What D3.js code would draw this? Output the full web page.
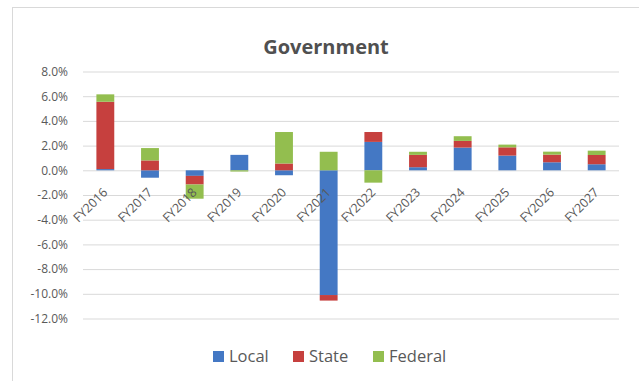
<!DOCTYPE html>
<html><head><meta charset="utf-8">
<script src="https://cdn.jsdelivr.net/npm/d3@7"></script>
<style>html,body{margin:0;padding:0;background:#fff;}svg{display:block;}</style>
</head><body>
<script>
const categories = ["FY2016","FY2017","FY2018","FY2019","FY2020","FY2021","FY2022","FY2023","FY2024","FY2025","FY2026","FY2027"];
const local   = [0.1, -0.6, -0.45, 1.25, -0.4, -10.1, 2.3, 0.25, 1.84, 1.19, 0.65, 0.49];
const state   = [5.45, 0.8, -0.7, 0.0, 0.55, -0.45, 0.8, 1.0, 0.54, 0.67, 0.62, 0.75];
const federal = [0.6, 1.0, -1.15, -0.1, 2.55, 1.5, -1.0, 0.25, 0.38, 0.22, 0.24, 0.35];
const seriesNames = ["Local","State","Federal"];
const colors = ["#4478C4","#C6403E","#93BE4F"];
const yTicks = [8,6,4,2,0,-2,-4,-6,-8,-10,-12];

const W = 639, H = 381;
const svg = d3.select("body").append("svg").attr("width", W).attr("height", H);
const font = "'Open Sans', sans-serif";

svg.append("rect").attr("x", 12.5).attr("y", 7.5).attr("width", 640).attr("height", 390)
  .attr("fill", "#fff").attr("stroke", "#d9d9d9");

svg.append("text").attr("x", 326).attr("y", 54).attr("text-anchor", "middle")
  .attr("font-family", font).attr("font-weight", "bold").attr("font-size", 20)
  .attr("fill", "#505050").text("Government");

const x = d3.scaleBand().domain(categories).range([83, 619]).paddingInner(0.6).paddingOuter(0.3);
const y = d3.scaleLinear().domain([-12, 8]).range([318.5, 71.5]);

const g = svg.append("g");
const yAxis = g.append("g").attr("transform", "translate(83,0)")
  .call(d3.axisLeft(y).tickValues(yTicks).tickSize(-536).tickFormat(d => d.toFixed(1) + "%"));
yAxis.select(".domain").remove();
yAxis.selectAll(".tick line").attr("stroke", "#d9d9d9");
yAxis.selectAll(".tick text").attr("x", -15).attr("font-family", font).attr("font-size", 12).attr("fill", "#595959");

const rows = categories.map((c, i) => ({cat: c, Local: local[i], State: state[i], Federal: federal[i]}));
const stacked = d3.stack().keys(seriesNames).offset(d3.stackOffsetDiverging)(rows);

stacked.forEach((s, si) => {
  g.append("g").attr("fill", colors[si]).selectAll("rect").data(s).join("rect")
    .attr("x", d => x(d.data.cat))
    .attr("width", x.bandwidth())
    .attr("y", d => y(Math.max(d[0], d[1])))
    .attr("height", d => Math.abs(y(d[0]) - y(d[1])));
});

const xAxis = g.append("g").attr("transform", `translate(0,${y(0)})`)
  .call(d3.axisBottom(x).tickSize(0).tickFormat(d => d));
xAxis.select(".domain").remove();
xAxis.selectAll(".tick text")
  .attr("font-family", font).attr("font-size", 12.5).attr("fill", "#595959")
  .attr("text-anchor", "end").attr("dy", null).attr("y", 0)
  .attr("transform", "translate(3,23) rotate(-45)");

const legItems = [{n:"Local", x:213},{n:"State", x:293},{n:"Federal", x:373}];
const leg = svg.append("g");
legItems.forEach((it, i) => {
  leg.append("rect").attr("x", it.x).attr("y", 351).attr("width", 11).attr("height", 11).attr("fill", colors[i]);
  leg.append("text").attr("x", it.x + 16).attr("y", 362).attr("font-family", font).attr("font-size", 16.5)
    .attr("fill", "#595959").text(it.n);
});
</script>
</body></html>
